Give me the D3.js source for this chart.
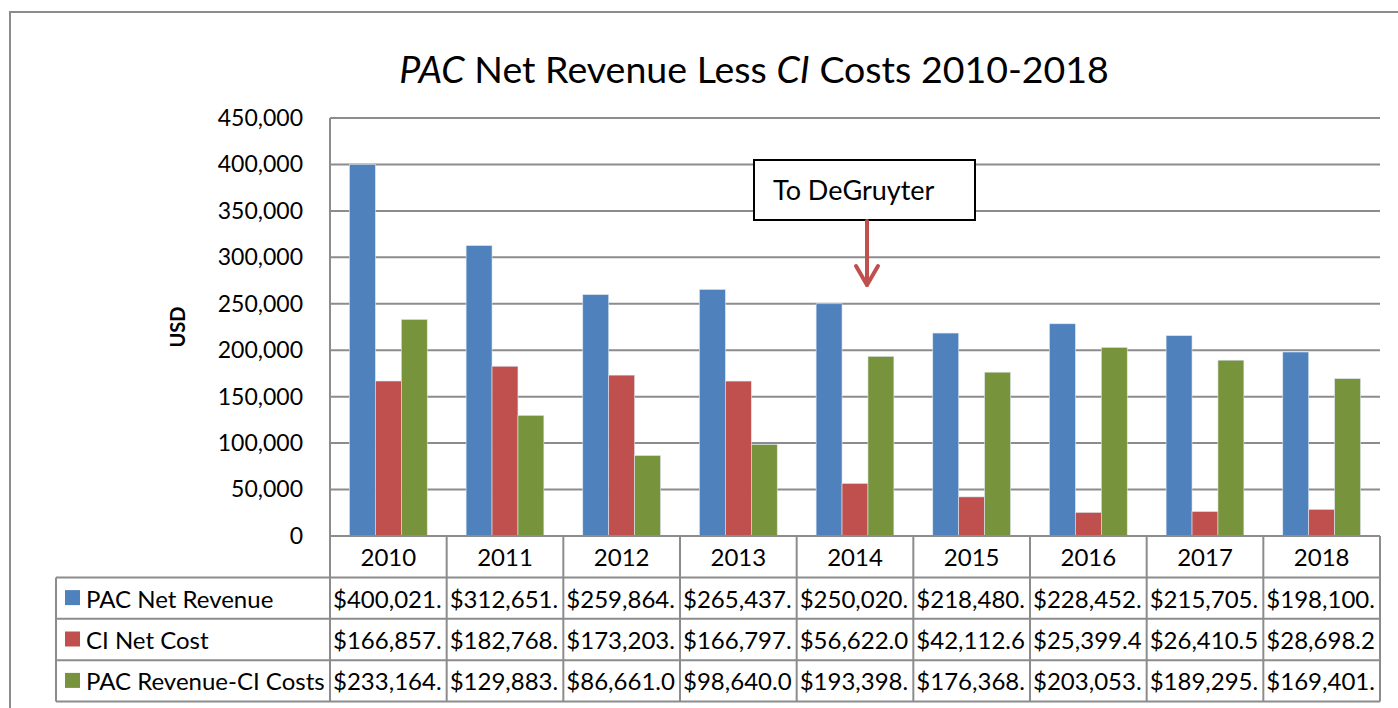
<!DOCTYPE html>
<html lang="en">
<head>
	<meta charset="UTF-8">
	<title>PAC Net Revenue Less CI Costs 2010-2018</title>
	<script src="https://cdn.jsdelivr.net/npm/d3@7"></script>
	<style>
		body {
			margin: 0;
			background: #fff;
		}

		svg text {
			font-family: "Lato", "Noto Sans", sans-serif;
			fill: #000;
		}
	</style>
</head>
<body>
<div id="viz"></div>

<script type="text/javascript">
	// chart data
	let years = ['2010', '2011', '2012', '2013', '2014', '2015', '2016', '2017', '2018'];
	let seriesNames = ['PAC Net Revenue', 'CI Net Cost', 'PAC Revenue-CI Costs'];
	let pacRevenue = [400021, 312651, 259864, 265437, 250020, 218480, 228452, 215705, 198100];
	let ciCost = [166857, 182768, 173203, 166797, 56622.0, 42112.6, 25399.4, 26410.5, 28698.2];
	let pacLessCi = [233164, 129883, 86661.0, 98640.0, 193398, 176368, 203053, 189295, 169401];
	let yTicks = [0, 50000, 100000, 150000, 200000, 250000, 300000, 350000, 400000, 450000];
	let colors = ['#4f81bd', '#c0504d', '#77933c'];

	window.onload = () => {

		let W = 1398, H = 708;
		let plot = {left: 330, right: 1380, top: 118, bottom: 536};
		let rowH = 41.4;
		let tableLeft = 56;
		let grey = '#8c8c8c';
		let fs = 23;   // axis labels
		let tfs = 24;  // table text

		let seriesValues = [pacRevenue, ciCost, pacLessCi];

		let svg = d3.select('#viz')
			.append('svg')
			.attr('width', W)
			.attr('height', H);

		// outer chart frame
		svg.append('rect')
			.attr('x', 10).attr('y', 12)
			.attr('width', W + 20).attr('height', H + 20)
			.attr('fill', 'none')
			.attr('stroke', grey)
			.attr('stroke-width', 2);

		// title
		let title = svg.append('text')
			.attr('x', 754)
			.attr('y', 83)
			.attr('text-anchor', 'middle')
			.style('font-size', '37.5px');
		title.append('tspan').style('font-style', 'italic').text('PAC');
		title.append('tspan').text(' Net Revenue Less ');
		title.append('tspan').style('font-style', 'italic').text('CI');
		title.append('tspan').text(' Costs 2010-2018');

		let x = d3.scaleBand()
			.domain(years)
			.range([plot.left, plot.right]);

		let bw = x.bandwidth() / 4.5;

		let x1 = d3.scaleBand()
			.domain(d3.range(3))
			.range([0.75 * bw, 3.75 * bw]);

		let y = d3.scaleLinear()
			.domain([0, 450000])
			.range([plot.bottom, plot.top]);

		// gridlines
		svg.append('g')
			.selectAll('line')
			.data(yTicks)
			.enter().append('line')
			.attr('x1', plot.left).attr('x2', plot.right)
			.attr('y1', (d) => y(d)).attr('y2', (d) => y(d))
			.attr('stroke', grey)
			.attr('stroke-width', 2);

		// plot area left border
		svg.append('line')
			.attr('x1', plot.left).attr('x2', plot.left)
			.attr('y1', plot.top).attr('y2', plot.bottom)
			.attr('stroke', grey)
			.attr('stroke-width', 2);

		// y axis labels
		let yAxis = d3.axisLeft(y)
			.tickValues(yTicks)
			.tickFormat(d3.format(','))
			.tickSize(0)
			.tickPadding(27);

		let gy = svg.append('g')
			.attr('transform', 'translate(' + plot.left + ',0)')
			.call(yAxis);
		gy.select('.domain').remove();
		gy.selectAll('text')
			.style('font-family', 'Lato')
			.style('font-size', fs + 'px')
			.attr('fill', '#000');

		svg.append('text')
			.attr('transform', 'translate(185,' + ((plot.top + plot.bottom) / 2) + ') rotate(-90)')
			.attr('text-anchor', 'middle')
			.style('font-size', '20px')
			.style('font-weight', 'bold')
			.text('USD');

		// bars
		let groups = svg.append('g')
			.selectAll('g')
			.data(years)
			.enter().append('g')
			.attr('transform', (d) => 'translate(' + x(d) + ',0)');

		groups.selectAll('rect')
			.data((d, i) => seriesValues.map((s, k) => ({k: k, v: s[i]})))
			.enter().append('rect')
			.attr('x', (d) => x1(d.k))
			.attr('width', x1.bandwidth())
			.attr('y', (d) => y(d.v))
			.attr('height', (d) => y(0) - y(d.v))
			.attr('fill', (d) => colors[d.k])
			.attr('stroke', '#dde6f0')
			.attr('stroke-width', 0.6);

		// annotation
		let ax = x('2014') + x.bandwidth() / 2 + 12;
		svg.append('rect')
			.attr('x', 754).attr('y', 160)
			.attr('width', 221).attr('height', 60)
			.attr('fill', '#fff')
			.attr('stroke', '#000')
			.attr('stroke-width', 2);
		svg.append('text')
			.attr('x', 773).attr('y', 189)
			.attr('dominant-baseline', 'central')
			.style('font-size', '27px')
			.text('To DeGruyter');

		let arrow = svg.append('g')
			.attr('fill', 'none')
			.attr('stroke', '#c0504d')
			.attr('stroke-width', 4)
			.attr('stroke-linecap', 'round')
			.attr('stroke-linejoin', 'round');
		arrow.append('line')
			.attr('x1', ax).attr('x2', ax)
			.attr('y1', 221).attr('y2', 285);
		arrow.append('path')
			.attr('d', 'M' + (ax - 11) + ',266L' + ax + ',285L' + (ax + 11) + ',266');

		// data table
		let table = svg.append('g');
		let tTop = plot.bottom;
		let tBottom = tTop + rowH * 4;

		// horizontal lines
		table.selectAll('.hline')
			.data(d3.range(5))
			.enter().append('line')
			.attr('class', 'hline')
			.attr('x1', (d) => d === 0 ? plot.left : tableLeft)
			.attr('x2', plot.right)
			.attr('y1', (d) => tTop + d * rowH)
			.attr('y2', (d) => tTop + d * rowH)
			.attr('stroke', grey)
			.attr('stroke-width', 2);

		// vertical lines
		let vx = years.map((d) => x(d)).concat([plot.right]);
		table.selectAll('.vline')
			.data(vx)
			.enter().append('line')
			.attr('class', 'vline')
			.attr('x1', (d) => d).attr('x2', (d) => d)
			.attr('y1', tTop).attr('y2', tBottom)
			.attr('stroke', grey)
			.attr('stroke-width', 2);
		table.append('line')
			.attr('x1', tableLeft).attr('x2', tableLeft)
			.attr('y1', tTop + rowH).attr('y2', tBottom)
			.attr('stroke', grey)
			.attr('stroke-width', 2);

		// header
		table.selectAll('.yr')
			.data(years)
			.enter().append('text')
			.attr('class', 'yr')
			.attr('x', (d) => x(d) + x.bandwidth() / 2)
			.attr('y', tTop + rowH / 2)
			.attr('text-anchor', 'middle')
			.attr('dominant-baseline', 'central')
			.style('font-size', tfs + 'px')
			.text((d) => d);

		let fmt = d3.format('$,.2f');

		seriesNames.forEach((name, k) => {
			let cy = tTop + rowH * (k + 1.5);
			table.append('rect')
				.attr('x', 65).attr('y', cy - 8)
				.attr('width', 15).attr('height', 15)
				.attr('fill', colors[k]);
			table.append('text')
				.attr('x', 86).attr('y', cy)
				.attr('dominant-baseline', 'central')
				.style('font-size', tfs + 'px')
				.text(name);
			table.selectAll('.v' + k)
				.data(seriesValues[k])
				.enter().append('text')
				.attr('x', (d, i) => x(years[i]) + 3)
				.attr('y', cy)
				.attr('dominant-baseline', 'central')
				.style('font-size', tfs + 'px')
				.text((d) => fmt(d).slice(0, 9));
		});
	};
</script>
</body>
</html>
